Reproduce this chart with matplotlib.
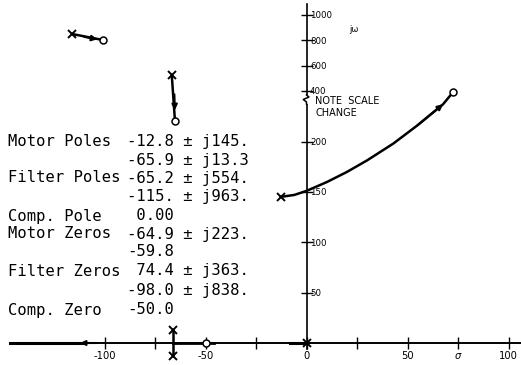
import numpy as np
import matplotlib
matplotlib.use("Agg")
import matplotlib.pyplot as plt
from matplotlib.patches import Rectangle

# ---------------- data ----------------
# open-loop poles (sigma, omega) as drawn
pole_sigma = [-12.8, -116.0, -66.7, -65.9, -65.9, 0.0]
pole_omega = [145.0, 850.0, 526.0, 13.3, -13.3, 0.0]
# open-loop zeros (sigma, omega) as drawn
zero_sigma = [72.5, -100.6, -65.1, -50.0]
zero_omega = [362.0, 802.0, 220.0, 0.0]

# main locus branch (motor pole -> filter zero)
locus_sigma = [-12.8, -6.0, 0.0, 10.0, 20.0, 30.0, 43.0, 55.0, 67.6, 72.5]
locus_omega = [145.0, 147.0, 151.0, 159.7, 169.8, 181.3, 198.0, 216.2, 237.0, 362.0]
# filter-pole branch (upper left)
branch1_sigma = [-116.0, -100.6]
branch1_omega = [850.0, 802.0]
# filter-pole branch (middle)
branch2_sigma = [-66.7, -65.1]
branch2_omega = [526.0, 220.0]
# motor poles meeting real axis
branch3_sigma = [-65.9, -65.9]
branch3_omega = [13.3, -13.3]

# ticks
xticks = [-100, -75, -50, -25, 0, 25, 50, 75, 100]
xticklabels = ["-100", "", "-50", "", "0", "", "50", r"$\sigma$", "100"]
yticks = [50, 100, 150, 200, 400, 600, 800, 1000]
yticklabels = ["50", "100", "150", "200", "400", "600", "800", "1000"]

# table text
table_labels = ["Motor Poles", "", "Filter Poles", "", "Comp. Pole",
                "Motor Zeros", "", "Filter Zeros", "", "Comp. Zero"]
table_values = ["-12.8 \u00b1 j145.", "-65.9 \u00b1 j13.3", "-65.2 \u00b1 j554.",
                "-115. \u00b1 j963.", " 0.00", "-64.9 \u00b1 j223.", "-59.8",
                " 74.4 \u00b1 j363.", "-98.0 \u00b1 j838.", "-50.0"]
table_rows_px = [142, 160, 178, 196, 216, 234, 252, 271, 290, 310]

# ---------------- broken jw scale ----------------
VP = np.array([0.0, 245.0, 400.0, 1000.0])
PP = np.array([0.0, 246.8, 252.0, 328.0])
S_LOW = PP[1] / VP[1]
S_HIGH = (PP[3] - PP[2]) / (VP[3] - VP[2])


def fwd(v):
    v = np.asarray(v, dtype=float)
    return np.where(v < 0, v * S_LOW,
                    np.where(v > 1000, PP[3] + (v - 1000) * S_HIGH,
                             np.interp(v, VP, PP)))


def inv(p):
    p = np.asarray(p, dtype=float)
    return np.where(p < 0, p / S_LOW,
                    np.where(p > PP[3], 1000 + (p - PP[3]) / S_HIGH,
                             np.interp(p, PP, VP)))


W, H = 521, 365
fig = plt.figure(figsize=(W / 100, H / 100), dpi=100)
ax = fig.add_axes([0, 0, 1, 1])
ax.set_yscale("function", functions=(fwd, inv))

x0px, pxs = 306.5, 2.02
ax.set_xlim(-x0px / pxs, (W - x0px) / pxs)
ax.set_ylim(float(inv(-(H - 343))), float(inv(343)))

# axes through the origin
ax.spines["left"].set_visible(False)
ax.spines["top"].set_visible(False)
ax.spines["right"].set_position(("data", 0))
ax.spines["bottom"].set_position(("data", 0))
ax.spines["right"].set_bounds(-6, 1090)
ax.spines["bottom"].set_bounds(-147, 106)
ax.spines["right"].set_linewidth(1.2)
ax.spines["bottom"].set_linewidth(1.4)
ax.yaxis.set_ticks_position("right")
ax.xaxis.set_ticks_position("bottom")
ax.set_xticks(xticks)
ax.set_xticklabels(xticklabels)
ax.set_yticks(yticks)
ax.set_yticklabels(yticklabels)
ax.minorticks_off()
ax.tick_params(axis="both", direction="inout", length=8, width=1.0,
               colors="black")
ax.tick_params(axis="y", pad=-1.5, labelsize=6.2)
ax.tick_params(axis="x", pad=1.5, labelsize=7.2)

# scale break on the jw axis
pb = [239.0, 241.0, 243.5, 246.0, 248.0]
xb = [0, 0, -1.6, 1.2, 0]
ax.add_patch(Rectangle((-2.0, float(inv(239.0))), 4.0,
                       float(inv(248.0)) - float(inv(239.0)),
                       facecolor="white", edgecolor="none", zorder=3))
ax.plot(xb, inv(pb), color="black", lw=1.1, zorder=4)

# real-axis locus segments
ax.plot([-147, -110], [0, 0], color="black", lw=2.2, zorder=4)
ax.annotate("", xy=(-112, 0), xytext=(-104, 0),
            arrowprops=dict(arrowstyle="-|>", color="black", lw=1.5,
                            mutation_scale=7, shrinkA=0, shrinkB=0), zorder=5)
ax.plot([-66, -46], [0, 0], color="black", lw=2.0, zorder=4)
ax.plot([-8, 0], [0, 0], color="black", lw=2.2, zorder=4)

# branches
lk = dict(color="black", lw=1.8, zorder=4, solid_capstyle="round")
ax.plot(locus_sigma, locus_omega, **lk)
ax.plot(branch1_sigma, branch1_omega, **lk)
ax.plot(branch2_sigma, branch2_omega, **lk)
ax.plot(branch3_sigma, branch3_omega, **lk)

ak = dict(arrowstyle="-|>", color="black", lw=1.5, mutation_scale=8,
          shrinkA=0, shrinkB=0)
ax.annotate("", xy=(locus_sigma[-2], locus_omega[-2]),
            xytext=(locus_sigma[-3], locus_omega[-3]), arrowprops=ak, zorder=5)
ax.annotate("", xy=(-103.5, 808.0), xytext=(-110.0, 827.0), arrowprops=ak, zorder=5)
ax.annotate("", xy=(-65.2, 231.0), xytext=(-65.4, 300.0), arrowprops=ak, zorder=5)

# poles and zeros
ax.plot(pole_sigma, pole_omega, linestyle="none", marker="x", ms=5.5,
        mew=1.4, color="black", zorder=6)
ax.plot(zero_sigma, zero_omega, linestyle="none", marker="o", ms=5,
        mew=1.1, mfc="white", mec="black", zorder=6)

# annotations
fig.text(315 / W, 1 - 101 / H, "NOTE  SCALE", fontsize=7, va="center",
         ha="left", family="DejaVu Sans")
fig.text(315 / W, 1 - 113 / H, "CHANGE", fontsize=7, va="center",
         ha="left", family="DejaVu Sans")
fig.text(349 / W, 1 - 30 / H, "j\u03c9", fontsize=6, va="center", ha="left",
         family="DejaVu Sans")

for lab, val, ypx in zip(table_labels, table_values, table_rows_px):
    if lab:
        fig.text(8 / W, 1 - ypx / H, lab, fontsize=11.2, va="center",
                 ha="left", family="DejaVu Sans Mono")
    fig.text(127 / W, 1 - ypx / H, val, fontsize=11.2, va="center",
             ha="left", family="DejaVu Sans Mono")

fig.savefig("out.png", dpi=100, facecolor="white")
